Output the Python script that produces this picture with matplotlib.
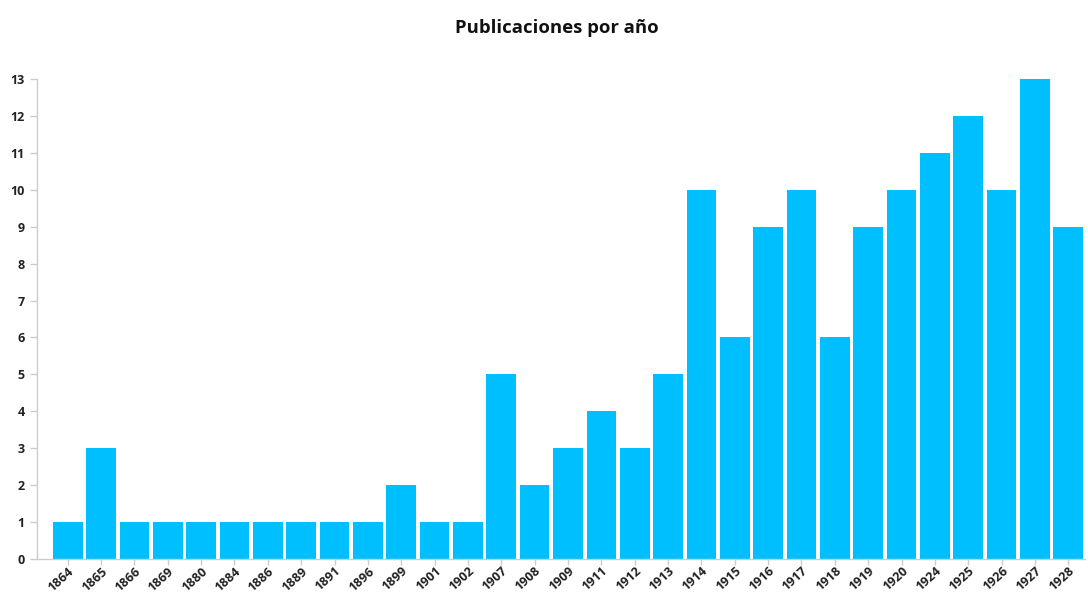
import matplotlib
matplotlib.use("Agg")
import matplotlib.pyplot as plt

years = ["1864", "1865", "1866", "1869", "1880", "1884", "1886", "1889", "1891", "1896",
         "1899", "1901", "1902", "1907", "1908", "1909", "1911", "1912", "1913", "1914",
         "1915", "1916", "1917", "1918", "1919", "1920", "1924", "1925", "1926", "1927", "1928"]
counts = [1, 3, 1, 1, 1, 1, 1, 1, 1, 1,
          2, 1, 1, 5, 2, 3, 4, 3, 5, 10,
          6, 9, 10, 6, 9, 10, 11, 12, 10, 13, 9]
yticks = list(range(0, 14))

plt.rcParams['font.family'] = ['Open Sans', 'DejaVu Sans']

fig = plt.figure(figsize=(10.88, 5.93), dpi=100)
W, H = 1088, 593
ax = fig.add_axes([37 / W, 1 - 559 / H, (1085 - 37) / W, (559 - 79) / H])

x = list(range(len(years)))
ax.bar(x, counts, width=0.89, color="#00BFFF", zorder=2)

ax.set_xlim(-0.92, len(years) - 0.5)
ax.set_ylim(0, 13)
ax.set_yticks(yticks)
ax.set_yticklabels([str(v) for v in yticks], fontsize=9, fontweight='bold', color='#222222')
ax.set_xticks(x)
ax.set_xticklabels(years, rotation=42, ha='right', rotation_mode='anchor',
                   fontsize=9.1, fontweight='bold', color='#222222')

for s in ['top', 'right']:
    ax.spines[s].set_visible(False)
for s in ['left', 'bottom']:
    ax.spines[s].set_color('#cccccc')
    ax.spines[s].set_linewidth(1)
ax.tick_params(axis='both', colors='#cccccc', length=5, width=1, labelcolor='#222222')
ax.tick_params(axis='x', length=4, pad=0)
ax.tick_params(axis='y', pad=4)

fig.text(557 / W, 1 - 28 / H, "Publicaciones por año", ha='center', va='center',
         fontsize=13.3, fontweight='bold', color='#111111')

fig.savefig("out.png", dpi=100)
